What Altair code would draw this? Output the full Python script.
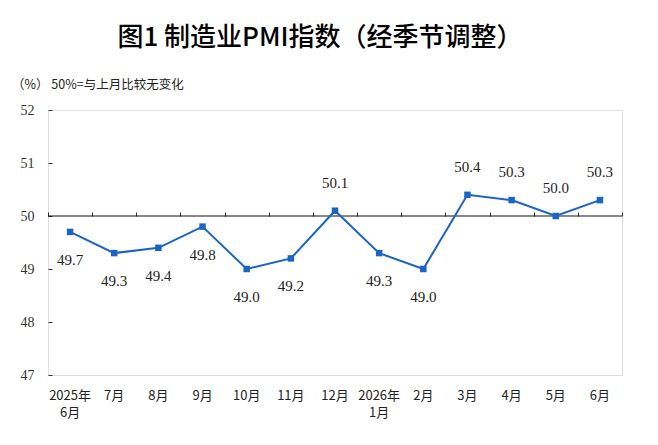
import altair as alt
import pandas as pd

months = ["2025年\n6月", "7月", "8月", "9月", "10月", "11月", "12月",
          "2026年\n1月", "2月", "3月", "4月", "5月", "6月"]
pmi = [49.7, 49.3, 49.4, 49.8, 49.0, 49.2, 50.1, 49.3, 49.0, 50.4, 50.3, 50.0, 50.3]

df = pd.DataFrame({"month": months, "pmi": pmi})
df["label"] = df["pmi"].map(lambda v: f"{v:.1f}")

W, H = 574, 265
BLUE = "#1a64c8"
SERIF = "Liberation Serif"
SANS = "Noto Sans CJK SC"

xscale = alt.Scale(type="band", domain=months, paddingInner=0, paddingOuter=0)
yscale = alt.Scale(domain=[47, 52], nice=False, zero=False)

base = alt.Chart(df)

x_main = alt.X("month:N", sort=months, scale=xscale, title=None,
               axis=alt.Axis(labelExpr="split(datum.label, '\\n')", labelAngle=0,
                             ticks=False, domain=False, labelPadding=14,
                             labelFont=SANS, labelFontSize=13, labelColor="#222",
                             labelLineHeight=17, labelBaseline="top", labelFlush=False))
y_main = alt.Y("pmi:Q", scale=yscale, title=None,
               axis=alt.Axis(values=[47, 48, 49, 50, 51, 52], ticks=False, domain=False,
                             grid=False, labelPadding=14, labelFont=SERIF,
                             labelFontSize=14, labelColor="#333", format="d"))
x_plain = alt.X("month:N", sort=months, scale=xscale, axis=None)
y_plain = alt.Y("pmi:Q", scale=yscale, axis=None)

line = base.mark_line(color=BLUE, strokeWidth=2).encode(x=x_main, y=y_main)
pts = base.mark_point(shape="square", filled=True, color=BLUE, size=42, opacity=1).encode(
    x=x_plain, y=y_plain)

lab_above = base.transform_filter("datum.pmi >= 50").mark_text(
    font=SERIF, fontSize=15, color="#222", dy=-28, baseline="middle").encode(
    x=x_plain, y=y_plain, text="label:N")
lab_below = base.transform_filter("datum.pmi < 50").mark_text(
    font=SERIF, fontSize=15, color="#222", dy=28, baseline="middle").encode(
    x=x_plain, y=y_plain, text="label:N")

ref = alt.Chart(pd.DataFrame({"v": [50]})).mark_rule(color="#111", strokeWidth=1.2).encode(
    y=alt.Y("v:Q", scale=yscale, axis=None))

# tick-only axes: x ticks sitting on the 50 line, y ticks pointing inward at left edge
off50 = H * (52 - 50) / 5
ticks_layer = base.mark_point(opacity=0).encode(
    x=alt.X("month:N", sort=months, scale=xscale, title=None,
            axis=alt.Axis(orient="top", offset=-off50, labels=False, domain=False,
                          ticks=True, tickSize=4, tickColor="#333", tickWidth=1,
                          tickBand="extent")),
    y=alt.Y("pmi:Q", scale=yscale, title=None,
            axis=alt.Axis(orient="right", offset=-W, labels=False, domain=False,
                          grid=False, ticks=True, tickSize=4, tickColor="#333", tickWidth=1,
                          values=[47, 48, 49, 50, 51, 52])))

title = alt.Chart(pd.DataFrame({"t": ["图1  制造业PMI指数（经季节调整）"]})).mark_text(
    font=SANS, fontSize=26, fontWeight=500, color="#000", align="center",
    baseline="alphabetic").encode(x=alt.value(272), y=alt.value(-64), text="t:N")
sub = alt.Chart(pd.DataFrame({"t": ["（%）  50%=与上月比较无变化"]})).mark_text(
    font=SANS, fontSize=12.5, color="#222", align="left", baseline="middle").encode(
    x=alt.value(-36), y=alt.value(-25), text="t:N")

chart = alt.layer(ticks_layer, ref, line, pts, lab_above, lab_below, title, sub).resolve_axis(
    x="independent", y="independent").properties(
    width=W, height=H, autosize=alt.AutoSizeParams(type="none"),
    padding={"left": 48, "top": 110, "right": 36, "bottom": 70}).configure_view(
    stroke="#555", strokeWidth=1).configure(background="white")

chart.save("out.html", embed_options={"renderer": "svg", "actions": False})
